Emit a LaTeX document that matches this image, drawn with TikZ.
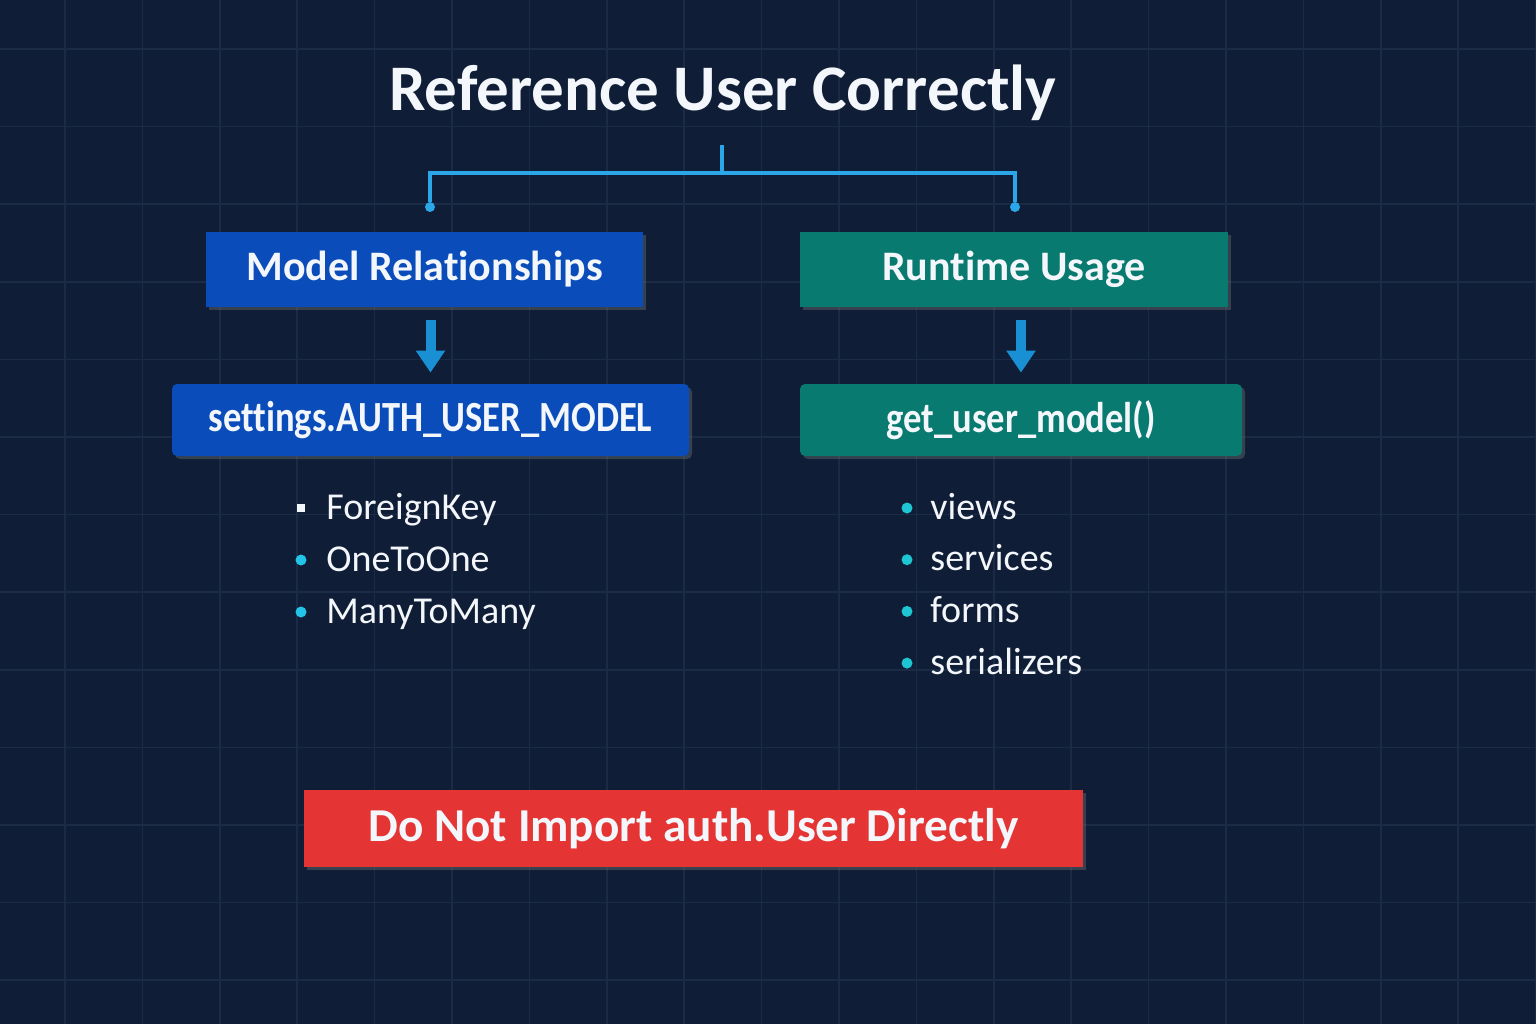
\documentclass[tikz,border=0pt]{standalone}
\usepackage{fontspec}
\setmainfont{Carlito}[Ligatures=NoCommon]
\usetikzlibrary{arrows.meta, shadows}
\definecolor{bgnavy}{HTML}{0F1E36}
\definecolor{gridnavy}{HTML}{1B2B46}
\definecolor{linkblue}{HTML}{2BA6E9}
\definecolor{boxblue}{HTML}{0A4DBA}
\definecolor{boxteal}{HTML}{087A70}
\definecolor{arrowblue}{HTML}{1A90D4}
\definecolor{warnred}{HTML}{E53434}
\definecolor{dotcyan}{HTML}{22C4E8}
\definecolor{dotteal}{HTML}{1DC6D2}
\definecolor{softwhite}{HTML}{F3F6FA}
\tikzset{
    gridline/.style = {draw=gridnavy, line width=0.8pt},
    bracket/.style = {draw=linkblue, line width=1.6pt},
    joint/.style = {circle, fill=linkblue, inner sep=0pt, minimum size=5pt},
    headbox/.style = {fill=#1, text=softwhite, font=\bfseries\fontsize{21}{24}\selectfont,
        minimum height=37.5pt, inner sep=0pt, drop shadow={opacity=0.35, shadow xshift=1.5pt, shadow yshift=-1.5pt}},
    codebox/.style = {fill=#1, text=softwhite, rounded corners=2.5pt,
        font=\bfseries\fontsize{21.5}{24}\selectfont\addfontfeatures{FakeStretch=0.85},
        minimum height=36pt, inner sep=0pt, drop shadow={opacity=0.35, shadow xshift=1.5pt, shadow yshift=-1.5pt}},
    down/.style = {draw=arrowblue, line width=5pt, -{Triangle[width=14pt, length=11pt]},
        shorten <=6.5pt, shorten >=5.5pt},
    itemtext/.style = {anchor=base west, inner sep=0pt, text=softwhite, font=\fontsize{19}{22}\selectfont},
    itemdot/.style = {circle, fill=#1, inner sep=0pt, minimum size=5.5pt},
    itemsquare/.style = {rectangle, fill=softwhite, inner sep=0pt, minimum size=3.8pt}
}
\begin{document}
\begin{tikzpicture}[x=0.5pt, y=-0.5pt]
    \useasboundingbox (0,0) rectangle (1536,1024);
    \fill[bgnavy] (0,0) rectangle (1536,1024);
    \foreach \gx in {0,...,19} \draw[gridline] (65+77.4*\gx,0) -- ++(0,1024);
    \foreach \gy in {0,...,12} \draw[gridline] (0,49+77.6*\gy) -- ++(1536,0);

    \node[text=softwhite, font=\bfseries\fontsize{32.5}{37}\selectfont] (title) at (723,93) {Reference User Correctly};

    \coordinate (stub) at (722,145);
    \node[joint] (jleft) at (430,207) {};
    \node[joint] (jright) at (1015,207) {};
    \draw[bracket] (stub) -- ++(0,28) -| (jleft);
    \draw[bracket] (stub) -- ++(0,28) -| (jright);

    \node[headbox=boxblue, minimum width=218.5pt] (model) at (424.5,269.5) {\raisebox{-1pt}{Model Relationships}};
    \node[headbox=boxteal, minimum width=214pt] (runtime) at (1014,269.5) {\raisebox{-1pt}{Runtime Usage}};
    \node[codebox=boxblue, minimum width=258.5pt] (setting) at (430.5,420) {settings.AUTH\_USER\_MODEL};
    \node[codebox=boxteal, minimum width=221pt] (getuser) at (1021,420) {get\_user\_model()};

    \draw[down] (model.south -| setting.north) -- (setting.north);
    \draw[down] (runtime.south -| getuser.north) -- (getuser.north);

    \foreach \name [count=\i] in {ForeignKey, OneToOne, ManyToMany} {
        \node[itemtext] (left\i) at (326,519+52*\i-52) {\name};
    }
    \node[itemsquare] (ldot1) at (301,508) {};
    \node[itemdot=dotcyan] (ldot2) at (301,560) {};
    \node[itemdot=dotcyan] (ldot3) at (301,612) {};

    \foreach \name [count=\i] in {views, services, forms, serializers} {
        \node[itemtext] (right\i) at (930,519+51.7*\i-51.7) {\name};
        \node[itemdot=dotteal] (rdot\i) at (907,508+51.7*\i-51.7) {};
    }

    \node[headbox=warnred, minimum width=389.5pt, minimum height=38.5pt,
        font=\bfseries\fontsize{23.6}{27}\selectfont] (warning) at (693.5,828.5) {Do Not Import auth.User Directly};
\end{tikzpicture}
\end{document}
